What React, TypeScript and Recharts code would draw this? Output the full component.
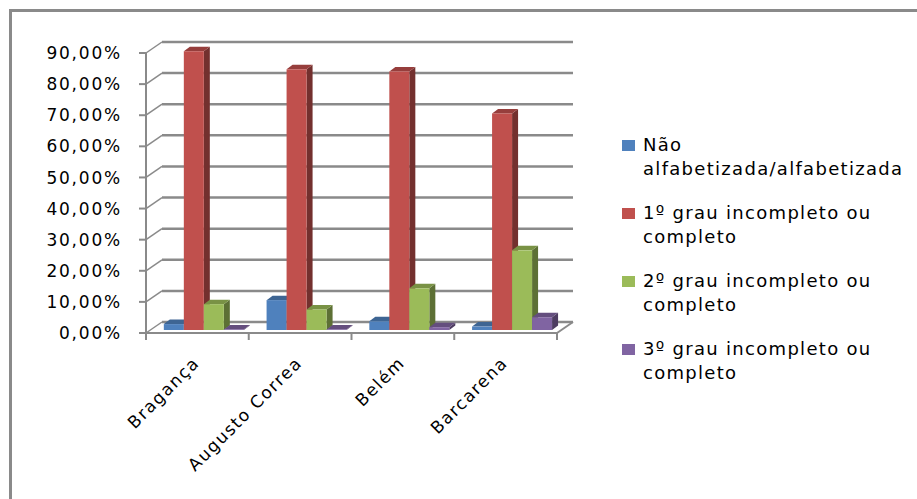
import React from 'react';
import { BarChart, Bar, XAxis, YAxis, CartesianGrid, Legend } from 'recharts';

// Escolaridade por município (percentual)
const municipios = ['Bragança', 'Augusto Correa', 'Belém', 'Barcarena'];
const naoAlfabetizada = [1.9, 9.6, 2.8, 1.1];
const primeiroGrau = [89.6, 83.8, 83.1, 69.6];
const segundoGrau = [8.3, 6.6, 13.4, 25.6];
const terceiroGrau = [0.2, 0.2, 0.9, 4.1];

const seriesKeys = ['nao', 'primeiro', 'segundo', 'terceiro'];
const seriesNames = [
  'Não alfabetizada/alfabetizada',
  '1º grau incompleto ou completo',
  '2º grau incompleto ou completo',
  '3º grau incompleto ou completo',
];
const seriesColors = ['#4F81BD', '#C0504D', '#9BBB59', '#8064A2'];
const yTicks = [0, 10, 20, 30, 40, 50, 60, 70, 80, 90];

const data = municipios.map((m, i) => ({
  municipio: m,
  nao: naoAlfabetizada[i],
  primeiro: primeiroGrau[i],
  segundo: segundoGrau[i],
  terceiro: terceiroGrau[i],
}));

// layout
const W = 917;
const H = 499;
const PLOT_LEFT = 146;
const PLOT_RIGHT = 557;
const PLOT_TOP = 53;
const PLOT_BOTTOM = 333;
const BAND = (PLOT_RIGHT - PLOT_LEFT) / municipios.length;
const WALL_DX = 16;
const WALL_DY = -11;
const BAR_SHIFT_X = 5.5;
const BAR_SHIFT_Y = -3;
const DEPTH_X = 6;
const DEPTH_Y = -4.5;
const AXIS_GRAY = '#8a8a8a';
const FONT = '"DejaVu Sans", Verdana, sans-serif';

const fmtPct = (v: number) => v.toFixed(2).replace('.', ',') + '%';

function shade(hex: string, f: number) {
  const n = parseInt(hex.slice(1), 16);
  const r = (n >> 16) & 255;
  const g = (n >> 8) & 255;
  const b = n & 255;
  const adj = (c: number) =>
    Math.round(f < 0 ? c * (1 + f) : c + (255 - c) * f);
  return `rgb(${adj(r)},${adj(g)},${adj(b)})`;
}

const Box3D = (props: any) => {
  const { x, y, width, height, fill } = props;
  if (x == null || y == null) return null;
  const fx = x + BAR_SHIFT_X;
  const fy = y + BAR_SHIFT_Y;
  const h = Math.max(height, 0);
  const w = width;
  const top = `${fx},${fy} ${fx + w},${fy} ${fx + w + DEPTH_X},${fy + DEPTH_Y} ${fx + DEPTH_X},${fy + DEPTH_Y}`;
  const side = `${fx + w},${fy} ${fx + w + DEPTH_X},${fy + DEPTH_Y} ${fx + w + DEPTH_X},${fy + h + DEPTH_Y} ${fx + w},${fy + h}`;
  return (
    <g>
      <polygon points={side} fill={shade(fill, -0.4)} />
      <polygon points={top} fill={shade(fill, -0.22)} />
      <rect x={fx} y={fy} width={w} height={h} fill={fill} />
    </g>
  );
};

// back-wall gridlines with connectors to the front axis
const WallLine = (p: any) => {
  const { x1, y1, x2 } = p;
  const isFloor = Math.abs(y1 - PLOT_BOTTOM) < 1;
  return (
    <g key={p.key}>
      <line x1={x1} y1={y1} x2={x1 + WALL_DX} y2={y1 + WALL_DY} stroke={AXIS_GRAY} strokeWidth={1.5} />
      <line
        x1={x1 + WALL_DX}
        y1={y1 + WALL_DY}
        x2={x2 + WALL_DX}
        y2={y1 + WALL_DY}
        stroke={AXIS_GRAY}
        strokeWidth={2.5}
      />
      {isFloor && (
        <line x1={x2} y1={y1} x2={x2 + WALL_DX} y2={y1 + WALL_DY} stroke={AXIS_GRAY} strokeWidth={2} />
      )}
    </g>
  );
};

const ValueTick = (p: any) => {
  const { y, payload } = p;
  return (
    <text
      x={PLOT_LEFT - 24}
      y={y}
      dy="0.36em"
      textAnchor="end"
      fontFamily={FONT}
      fontSize={17}
      letterSpacing={1.8}
      fill="#000"
    >
      {fmtPct(payload.value)}
    </text>
  );
};

const CategoryTick = (p: any) => {
  const { x, payload, index } = p;
  const half = BAND / 2;
  const last = index === municipios.length - 1;
  return (
    <g>
      <line x1={x - half} y1={PLOT_BOTTOM} x2={x - half} y2={PLOT_BOTTOM + 7} stroke={AXIS_GRAY} strokeWidth={2} />
      {last && (
        <line x1={x + half} y1={PLOT_BOTTOM} x2={x + half} y2={PLOT_BOTTOM + 7} stroke={AXIS_GRAY} strokeWidth={2} />
      )}
      <text
        transform={`translate(${x + 3},${PLOT_BOTTOM + 31}) rotate(-45)`}
        textAnchor="end"
        fontFamily={FONT}
        fontSize={17}
        letterSpacing={1.5}
        fill="#000"
      >
        {payload.value}
      </text>
    </g>
  );
};

// legend entries listed in series order
const LegendBox = () => (
  <div style={{ fontFamily: FONT, fontSize: 18, letterSpacing: 1.3, color: '#000' }}>
    {seriesNames.map((name, i) => (
      <div key={name} style={{ display: 'flex', alignItems: 'flex-start', marginBottom: 20 }}>
        <div
          style={{
            width: 13,
            height: 11,
            background: seriesColors[i],
            marginTop: 7,
            marginRight: 8,
            flex: '0 0 auto',
          }}
        />
        <div style={{ width: 275, lineHeight: '24px' }}>{name}</div>
      </div>
    ))}
  </div>
);

export default function App() {
  return (
    <div
      style={{
        position: 'absolute',
        left: 0,
        top: 0,
        width: W,
        height: H,
        overflow: 'hidden',
        background: '#fff',
      }}
    >
      <div
        style={{
          position: 'absolute',
          left: 9,
          top: 9,
          width: W + 20,
          height: H + 20,
          border: `3px solid ${AXIS_GRAY}`,
        }}
      />
      <div style={{ position: 'absolute', left: 0, top: 0 }}>
        <BarChart
          width={W}
          height={H}
          data={data}
          margin={{ top: PLOT_TOP, right: W - PLOT_RIGHT, bottom: 0, left: 0 }}
          barGap={0}
          barCategoryGap="12%"
        >
          <CartesianGrid vertical={false} horizontal={WallLine} />
          <XAxis
            dataKey="municipio"
            height={H - PLOT_BOTTOM}
            interval={0}
            axisLine={{ stroke: AXIS_GRAY, strokeWidth: 2 }}
            tickLine={false}
            tick={<CategoryTick />}
          />
          <YAxis
            type="number"
            domain={[0, 90]}
            ticks={yTicks}
            width={PLOT_LEFT}
            axisLine={{ stroke: AXIS_GRAY, strokeWidth: 2 }}
            tickLine={{ stroke: AXIS_GRAY, strokeWidth: 2 }}
            tickSize={7}
            tick={<ValueTick />}
          />
          {seriesKeys.map((k, i) => (
            <Bar
              key={k}
              dataKey={k}
              name={seriesNames[i]}
              fill={seriesColors[i]}
              shape={Box3D}
              isAnimationActive={false}
            />
          ))}
          <Legend
            layout="vertical"
            align="center"
            verticalAlign="middle"
            wrapperStyle={{ left: 622, top: 133, width: 300 }}
            content={<LegendBox />}
          />
        </BarChart>
      </div>
    </div>
  );
}
